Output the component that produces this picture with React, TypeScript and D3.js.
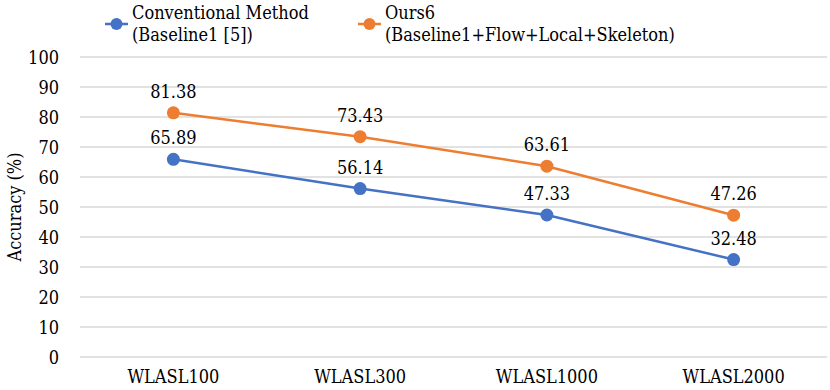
import React, { useEffect, useRef } from 'react';
import * as d3 from 'd3';

const categories = ['WLASL100', 'WLASL300', 'WLASL1000', 'WLASL2000'];
const baselineValues = [65.89, 56.14, 47.33, 32.48];
const oursValues = [81.38, 73.43, 63.61, 47.26];
const seriesNames = [
  ['Conventional Method', '(Baseline1 [5])'],
  ['Ours6', '(Baseline1+Flow+Local+Skeleton)'],
];
const yTicks = [0, 10, 20, 30, 40, 50, 60, 70, 80, 90, 100];

const width = 830;
const height = 390;
const margin = { top: 57, right: 3, bottom: 33, left: 80 };
const colors = ['#4472C4', '#ED7D31'];
const font = "'DejaVu Serif Condensed', 'DejaVu Serif', serif";

export default function App() {
  const ref = useRef<SVGSVGElement>(null);

  useEffect(() => {
    const svg = d3.select(ref.current);
    svg.selectAll('*').remove();

    const x = d3
      .scaleBand()
      .domain(categories)
      .range([margin.left, width - margin.right]);
    const y = d3
      .scaleLinear()
      .domain([0, 100])
      .range([height - margin.bottom, margin.top]);

    const label = (sel: any) =>
      sel
        .attr('font-family', font)
        .attr('font-stretch', 'condensed')
        .attr('font-size', 18)
        .attr('fill', '#000');

    // gridlines
    svg
      .append('g')
      .selectAll('line')
      .data(yTicks)
      .join('line')
      .attr('x1', margin.left)
      .attr('x2', width - margin.right)
      .attr('y1', (d) => y(d))
      .attr('y2', (d) => y(d))
      .attr('stroke', '#d9d9d9')
      .attr('stroke-width', 1.3);

    // y tick labels
    svg
      .append('g')
      .selectAll('text')
      .data(yTicks)
      .join('text')
      .attr('x', 59)
      .attr('y', (d) => y(d) + 6.5)
      .attr('text-anchor', 'end')
      .call(label)
      .text((d) => d);

    // x tick labels
    svg
      .append('g')
      .selectAll('text')
      .data(categories)
      .join('text')
      .attr('x', (d) => x(d)! + x.bandwidth() / 2)
      .attr('y', height - 7)
      .attr('text-anchor', 'middle')
      .call(label)
      .text((d) => d);

    // y axis title
    svg
      .append('text')
      .attr('transform', `translate(21,${(margin.top + height - margin.bottom) / 2}) rotate(-90)`)
      .attr('text-anchor', 'middle')
      .call(label)
      .text('Accuracy (%)');

    const line = d3
      .line<number>()
      .x((d, i) => x(categories[i])! + x.bandwidth() / 2)
      .y((d) => y(d));

    [baselineValues, oursValues].forEach((vals, si) => {
      const g = svg.append('g');
      g.append('path')
        .attr('d', line(vals))
        .attr('fill', 'none')
        .attr('stroke', colors[si])
        .attr('stroke-width', 2.5);
      g.selectAll('circle')
        .data(vals)
        .join('circle')
        .attr('cx', (d, i) => x(categories[i])! + x.bandwidth() / 2)
        .attr('cy', (d) => y(d))
        .attr('r', 6.5)
        .attr('fill', colors[si]);
      g.selectAll('text')
        .data(vals)
        .join('text')
        .attr('x', (d, i) => x(categories[i])! + x.bandwidth() / 2)
        .attr('y', (d) => y(d) - 15)
        .attr('text-anchor', 'middle')
        .call(label)
        .text((d) => d.toFixed(2));
    });

    // legend
    const legendX = [105, 358];
    seriesNames.forEach((lines, si) => {
      const lg = svg.append('g').attr('transform', `translate(${legendX[si]},24)`);
      lg.append('line')
        .attr('x1', 0)
        .attr('x2', 23)
        .attr('stroke', colors[si])
        .attr('stroke-width', 2.5);
      lg.append('circle').attr('cx', 11.5).attr('r', 6).attr('fill', colors[si]);
      lines.forEach((t, li) => {
        lg.append('text')
          .attr('x', 27)
          .attr('y', -5 + li * 22)
          .call(label)
          .text(t);
      });
    });
  }, []);

  return <svg ref={ref} width={width} height={height} style={{ position: 'absolute', left: 0, top: 0, background: '#fff' }} />;
}
